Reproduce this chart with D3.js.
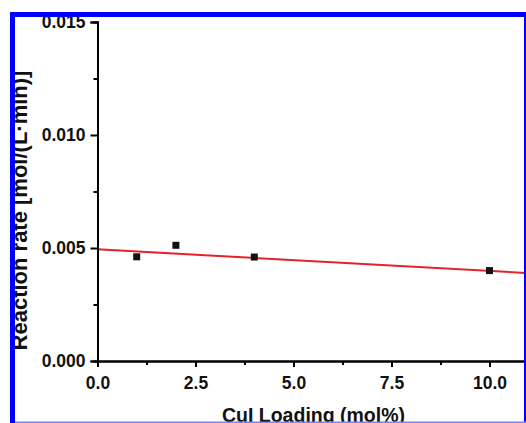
<!DOCTYPE html>
<html>
<head>
<meta charset="utf-8">
<script src="https://cdn.jsdelivr.net/npm/d3@7"></script>
<style>
  html, body { margin: 0; padding: 0; background: #fff; }
  svg { display: block; }
  svg text { font-family: "Liberation Sans", Arial, sans-serif; font-weight: bold; }
</style>
</head>
<body>
<svg id="chart" width="526" height="423"></svg>
<script>
// ---- data ----
const loading = [1, 2, 4, 10];                 // CuI loading (mol%)
const rate = [0.00461, 0.00512, 0.00460, 0.00400]; // reaction rate
const fitX = [0, 11];
const fitY = [0.00494, 0.00389];
const xTicks = [0, 2.5, 5, 7.5, 10];
const xMinor = [1.25, 3.75, 6.25, 8.75];
const yTicks = [0, 0.005, 0.010, 0.015];
const yMinor = [0.0025, 0.0075, 0.0125];
const xTitle = "CuI Loading (mol%)";
const yTitle = "Reaction rate [mol/(L\u00B7min)]";

const svg = d3.select("#chart");
svg.append("rect").attr("width", 526).attr("height", 423).attr("fill", "#fff");

const x = d3.scaleLinear().domain([0, 11]).range([97.5, 528.7]);
const y = d3.scaleLinear().domain([0, 0.015]).range([361, 22]);

// fit line
const line = d3.line().x(d => x(d[0])).y(d => y(d[1]));
svg.append("path")
  .datum(fitX.map((v, i) => [v, fitY[i]]))
  .attr("d", line)
  .attr("fill", "none")
  .attr("stroke", "#e3222b")
  .attr("stroke-width", 2);

// points
svg.selectAll("rect.pt")
  .data(loading.map((v, i) => [v, rate[i]]))
  .enter().append("rect")
  .attr("class", "pt")
  .attr("x", d => x(d[0]) - 3.5)
  .attr("y", d => y(d[1]) - 3.5)
  .attr("width", 7).attr("height", 7)
  .attr("fill", "#111");

function styleAxis(g) {
  g.attr("font-size", "17.5px").attr("font-family", null);
  g.selectAll("path.domain").attr("stroke", "#000").attr("stroke-width", 2);
  g.selectAll(".tick line").attr("stroke", "#000").attr("stroke-width", 2);
  g.selectAll(".tick text").attr("fill", "#111").style("font-size", "17.5px");
}

// y axis
const yAxis = svg.append("g").attr("transform", `translate(${x(0)},0)`)
  .call(d3.axisLeft(y).tickValues(yTicks).tickFormat(d3.format(".3f")).tickSize(7).tickPadding(5));
styleAxis(yAxis);
const yAxisMinor = svg.append("g").attr("transform", `translate(${x(0)},0)`)
  .call(d3.axisLeft(y).tickValues(yMinor).tickFormat("").tickSize(4));
styleAxis(yAxisMinor);

// x axis
const xAxis = svg.append("g").attr("transform", `translate(0,${y(0)})`)
  .call(d3.axisBottom(x).tickValues(xTicks).tickFormat(d3.format(".1f")).tickSize(6).tickPadding(10));
styleAxis(xAxis);
const xAxisMinor = svg.append("g").attr("transform", `translate(0,${y(0)})`)
  .call(d3.axisBottom(x).tickValues(xMinor).tickFormat("").tickSize(4));
styleAxis(xAxisMinor);

// titles
svg.append("text")
  .attr("x", 313.5).attr("y", 422)
  .attr("text-anchor", "middle")
  .attr("fill", "#111")
  .style("font-size", "19.5px")
  .text(xTitle);

svg.append("text")
  .attr("transform", "translate(27,210.5) rotate(-90)")
  .attr("text-anchor", "middle")
  .attr("fill", "#111")
  .style("font-size", "22px")
  .text(yTitle);

// blue frame on top
svg.append("rect").attr("x", 10).attr("y", 12).attr("width", 5).attr("height", 411).attr("fill", "#0000ff");
svg.append("rect").attr("x", 10).attr("y", 12).attr("width", 516).attr("height", 5).attr("fill", "#0000ff");
svg.append("rect").attr("x", 524).attr("y", 12).attr("width", 2).attr("height", 411).attr("fill", "#0000ff");
svg.append("rect").attr("x", 15).attr("y", 421.5).attr("width", 511).attr("height", 1.5).attr("fill", "#8080ff");
</script>
</body>
</html>
